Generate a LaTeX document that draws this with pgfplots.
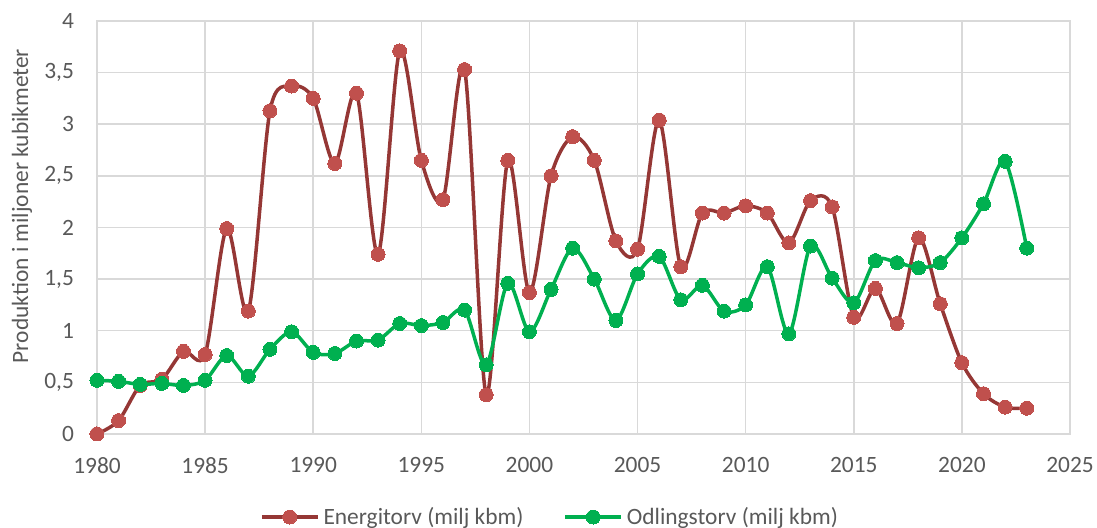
\documentclass[border=0pt]{standalone}
\usepackage{pgfplots}
\pgfplotsset{compat=1.18}
\usepackage{fontspec}
\setmainfont{Carlito}
\definecolor{redline}{HTML}{953735}
\definecolor{redmark}{HTML}{C0504D}
\definecolor{greenline}{HTML}{00B050}
\definecolor{gridc}{HTML}{D9D9D9}
\definecolor{txt}{HTML}{595959}
\begin{document}
\begin{tikzpicture}
\begin{axis}[
  name=ax,
  scale only axis,
  width=486.5pt, height=206.5pt,
  xmin=1980, xmax=2025, ymin=0, ymax=4,
  xtick={1980,1985,...,2025},
  ytick={0,0.5,...,4},
  grid=major,
  grid style={gridc, line width=0.75pt},
  axis line style={gridc, line width=0.75pt},
  major tick length=0pt,
  font=\fontsize{11.7}{14}\selectfont,
  tick label style={txt},
  /pgf/number format/assume math mode=true,
  /pgf/number format/use comma,
  /pgf/number format/1000 sep={},
  yticklabel style={/pgf/number format/fixed, xshift=-8pt},
  xticklabel style={yshift=-8pt},
  ylabel={Produktion i miljoner kubikmeter},
  ylabel style={txt, at={(axis description cs:-0.0771,0.552)}, anchor=center},
  legend columns=2,
  legend style={draw=none, fill=none, at={(0.4666,-0.201)}, anchor=center,
    font=\fontsize{11.7}{14}\selectfont, text=txt,
    /tikz/every even column/.append style={column sep=18pt}},
  legend image code/.code={
    \draw[mark repeat=2,mark phase=2] plot coordinates {(0pt,0pt)(14pt,0pt)(28pt,0pt)};
  },
]
\addplot[redline, line width=1.75pt, smooth, mark=*, mark size=3.5pt,
  mark options={fill=redmark, draw=redmark, line width=0pt}] coordinates {
(1980,0) (1981,0.13) (1982,0.47) (1983,0.53) (1984,0.80) (1985,0.77)
(1986,1.99) (1987,1.19) (1988,3.13) (1989,3.37) (1990,3.25) (1991,2.62)
(1992,3.30) (1993,1.74) (1994,3.71) (1995,2.65) (1996,2.27) (1997,3.53)
(1998,0.38) (1999,2.65) (2000,1.37) (2001,2.50) (2002,2.88) (2003,2.65)
(2004,1.87) (2005,1.79) (2006,3.04) (2007,1.62) (2008,2.14) (2009,2.14)
(2010,2.21) (2011,2.14) (2012,1.85) (2013,2.26) (2014,2.20) (2015,1.13)
(2016,1.41) (2017,1.07) (2018,1.90) (2019,1.26) (2020,0.69) (2021,0.39)
(2022,0.26) (2023,0.25)};
\addlegendentry{Energitorv (milj kbm)}
\addplot[greenline, line width=1.75pt, smooth, mark=*, mark size=3.5pt,
  mark options={fill=greenline, draw=greenline, line width=0pt}] coordinates {
(1980,0.52) (1981,0.51) (1982,0.48) (1983,0.49) (1984,0.47) (1985,0.52)
(1986,0.76) (1987,0.56) (1988,0.82) (1989,0.99) (1990,0.79) (1991,0.78)
(1992,0.90) (1993,0.91) (1994,1.07) (1995,1.05) (1996,1.08) (1997,1.20)
(1998,0.67) (1999,1.46) (2000,0.99) (2001,1.40) (2002,1.80) (2003,1.50)
(2004,1.10) (2005,1.55) (2006,1.72) (2007,1.30) (2008,1.44) (2009,1.19)
(2010,1.25) (2011,1.62) (2012,0.97) (2013,1.82) (2014,1.51) (2015,1.27)
(2016,1.68) (2017,1.66) (2018,1.61) (2019,1.66) (2020,1.90) (2021,2.23)
(2022,2.64) (2023,1.80)};
\addlegendentry{Odlingstorv (milj kbm)}
\end{axis}
\pgfresetboundingbox
\path ([xshift=-48.5pt,yshift=-47pt]ax.south west) rectangle ([xshift=13.5pt,yshift=10.5pt]ax.north east);
\end{tikzpicture}
\end{document}
